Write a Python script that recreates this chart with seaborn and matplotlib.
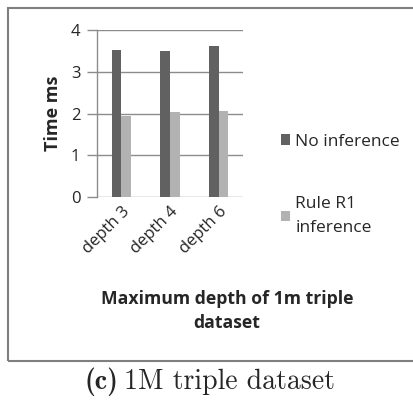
import matplotlib
matplotlib.use("Agg")
import matplotlib.pyplot as plt
import seaborn as sns
import pandas as pd
from matplotlib.patches import Rectangle

categories = ["depth 3", "depth 4", "depth 6"]
no_inference = [3.52, 3.50, 3.62]
rule_r1 = [1.95, 2.04, 2.07]
series_names = ["No inference", "Rule R1\ninference"]
y_ticks = [0, 1, 2, 3, 4]

df = pd.DataFrame({
    "depth": categories * 2,
    "time": no_inference + rule_r1,
    "series": [series_names[0]] * 3 + [series_names[1]] * 3,
})

sns.set_style("white")
plt.rcParams["font.family"] = ["Open Sans", "DejaVu Sans"]

W, H = 414, 412
fig = plt.figure(figsize=(W / 100, H / 100), dpi=100)
ax = fig.add_axes([97 / W, 1 - 197 / H, (243 - 97) / W, (197 - 30) / H])

sns.barplot(data=df, x="depth", y="time", hue="series", ax=ax,
            palette=["#616161", "#b2b2b2"], width=0.4, saturation=1,
            linewidth=0, legend=True)

ax.set_xlim(-0.5, 2.5)
ax.set_ylim(0, 4)
ax.set_yticks(y_ticks)
ax.set_yticklabels([str(t) for t in y_ticks], fontsize=12)
ax.yaxis.grid(True, color="#8c8c8c", linewidth=1)
ax.set_axisbelow(True)
for s in ["top", "right", "bottom"]:
    ax.spines[s].set_visible(False)
ax.spines["left"].set_color("#8c8c8c")
ax.spines["left"].set_linewidth(1)
ax.tick_params(axis="y", length=7, width=1, color="#8c8c8c", pad=5, left=True)
ax.tick_params(axis="x", length=0, pad=5)
ax.set_xticks(range(len(categories)))
ax.set_xticklabels(categories, rotation=45, ha="right", rotation_mode="anchor",
                   fontsize=12)

ax.set_xlabel("")
ax.set_ylabel("Time ms", fontsize=13, fontweight="bold", labelpad=6)

handles, labels = ax.get_legend_handles_labels()
leg = ax.legend(handles, labels, loc="upper left",
                bbox_to_anchor=(265 / W, 1 - 118 / H), bbox_transform=fig.transFigure,
                frameon=False, handlelength=0.55, handleheight=0.55,
                handletextpad=0.3, labelspacing=2.7, fontsize=12.5)
for t in leg.get_texts():
    t.set_linespacing(1.65)

fig.text(227 / W, 1 - 311 / H, "Maximum depth of 1m triple\ndataset",
         ha="center", va="center", fontsize=12.7, fontweight="bold",
         linespacing=1.45)

fig.add_artist(Rectangle((8 / W, 1 - 361 / H), (W - 8) / W + 0.01, (361 - 8) / H,
                         transform=fig.transFigure, fill=False,
                         edgecolor="#7f7f7f", linewidth=1.5))

fig.text(118 / W, 1 - 382 / H, "(c)", ha="right", va="center",
         fontsize=20, family=["cmb10", "DejaVu Serif"])
fig.text(124 / W, 1 - 382 / H, "1M triple dataset", ha="left", va="center",
         fontsize=20, family=["cmr10", "DejaVu Serif"])

fig.savefig("out.png", dpi=100)
